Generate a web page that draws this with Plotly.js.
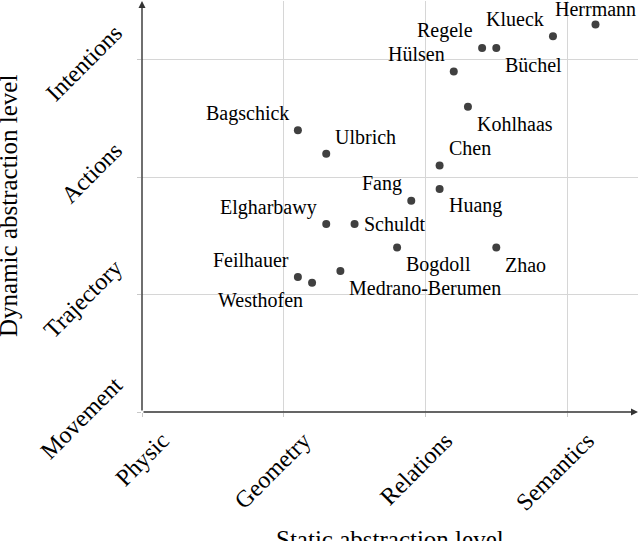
<!DOCTYPE html>
<html><head><meta charset="utf-8">
<script src="https://cdn.plot.ly/plotly-3.0.1.min.js"></script>
<style>body{margin:0;background:#fff}#c{width:640px;height:541px}</style>
</head><body><div id="c"></div>
<script>
const names = ["Herrmann","Klueck","Regele","Büchel","Hülsen","Kohlhaas","Bagschick","Ulbrich","Chen","Huang","Fang","Elgharbawy","Schuldt","Bogdoll","Zhao","Feilhauer","Westhofen","Medrano-Berumen"];
const staticLevel  = [3.2,2.9,2.4,2.5,2.2,2.3,1.1,1.3,2.1,2.1,1.9,1.3,1.5,1.8,2.5,1.1,1.2,1.4];
const dynamicLevel = [3.3,3.2,3.1,3.1,2.9,2.6,2.4,2.2,2.1,1.9,1.8,1.6,1.6,1.4,1.4,1.15,1.1,1.2];
const xTickLabels = ["Physic","Geometry","Relations","Semantics"];
const yTickLabels = ["Movement","Trajectory","Actions","Intentions"];

// label placement relative to each dot (style only)
const labelPos = ["top center","top left","top left","bottom right","top left","bottom right","top left","top right","top right","bottom right","top left","top left","middle right","bottom right","bottom right","top left","bottom left","bottom right"];
const serif = "Liberation Serif";

function labelAnnotation(name, x, y, pos) {
  const [v, h] = pos.split(" ");
  const a = {x: x, y: y, xref: "x", yref: "y", text: name, showarrow: false,
    font: {family: serif, size: 20, color: "#000"}, yanchor: "middle", borderpad: 0};
  if (h === "left") { a.xanchor = "right"; a.xshift = -8; }
  else if (h === "right") { a.xanchor = "left"; a.xshift = 8; }
  else { a.xanchor = "center"; a.xshift = 0; }
  a.yshift = v === "top" ? 17 : v === "bottom" ? -17 : 0;
  if (h === "center") a.yshift = 15;
  return a;
}

const trace = {
  x: staticLevel, y: dynamicLevel,
  type: "scatter", mode: "markers",
  marker: {size: 8, color: "#404040"},
  cliponaxis: false, hoverinfo: "skip"
};

const annotations = names.map((n, i) => labelAnnotation(n, staticLevel[i], dynamicLevel[i], labelPos[i]));
annotations.push(
  {x: 3.5, y: 0, ax: 0, ay: 0, xref: "x", yref: "y", axref: "x", ayref: "y",
   showarrow: true, arrowhead: 2, arrowsize: 1, arrowwidth: 1.4, arrowcolor: "#333", text: ""},
  {x: 0, y: 3.5, ax: 0, ay: 0, xref: "x", yref: "y", axref: "x", ayref: "y",
   showarrow: true, arrowhead: 2, arrowsize: 1, arrowwidth: 1.4, arrowcolor: "#333", text: ""},
  {x: 0.5, y: 0, xref: "paper", yref: "paper", xanchor: "center", yanchor: "top", yshift: -112,
   text: "Static abstraction level", showarrow: false, font: {family: serif, size: 25, color: "#000"}},
  {x: 0, y: 0.5, xref: "paper", yref: "paper", xanchor: "left", yanchor: "middle", xshift: -149,
   textangle: -90, text: "Dynamic abstraction level", showarrow: false, font: {family: serif, size: 25, color: "#000"}}
);

const layout = {
  width: 640, height: 541,
  margin: {l: 142, r: 2, t: 1, b: 129},
  paper_bgcolor: "#fff", plot_bgcolor: "#fff",
  showlegend: false,
  font: {family: serif, color: "#000"},
  xaxis: {
    range: [0, 3.5], tickmode: "array",
    tickvals: xTickLabels.map((_, i) => i), ticktext: xTickLabels,
    tickangle: -45, tickfont: {size: 24, family: serif},
    ticks: "outside", ticklen: 4, tickcolor: "#c8c8c8",
    ticklabelshift: 20, ticklabelstandoff: 0,
    showgrid: true, gridcolor: "#d6d6d6", gridwidth: 1,
    zeroline: false, showline: false,
    automargin: false, fixedrange: true
  },
  yaxis: {
    range: [0, 3.5], tickmode: "array",
    tickvals: yTickLabels.map((_, i) => i), ticktext: yTickLabels,
    tickangle: -45, tickfont: {size: 24, family: serif},
    ticks: "outside", ticklen: 4, tickcolor: "#c8c8c8",
    ticklabelshift: -30, ticklabelstandoff: 17,
    showgrid: true, gridcolor: "#d6d6d6", gridwidth: 1,
    zeroline: false, showline: false,
    automargin: false, fixedrange: true
  },
  annotations: annotations
};

Plotly.newPlot("c", [trace], layout, {displayModeBar: false, staticPlot: true});
</script></body></html>
